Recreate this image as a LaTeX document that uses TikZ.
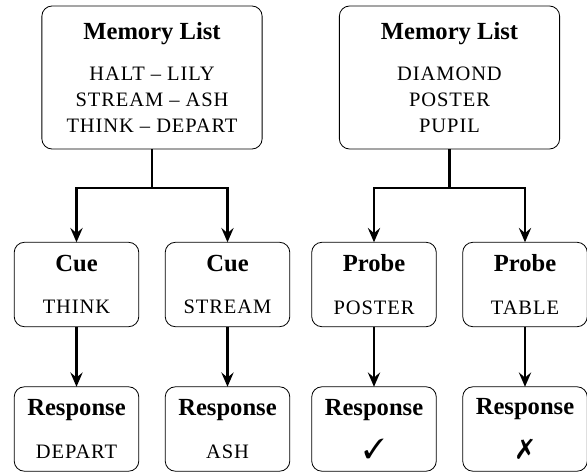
\documentclass[tikz,border=0pt]{standalone}
\usepackage{fontspec}
\setmainfont{Liberation Serif}
\newfontfamily\wordfont[LetterSpace=4.5]{Liberation Serif}
\usepackage{pifont}
\usepackage{tikz}
\usetikzlibrary{arrows.meta}

\tikzset{
    box/.style={draw, rounded corners=5pt, align=center, inner sep=2pt, outer sep=0pt,
        font=\wordfont\fontsize{10}{12.7}\selectfont},
    listbox/.style={box, minimum width=107.5pt, minimum height=69.8pt},
    smallbox/.style={box, minimum width=60.8pt, minimum height=41.2pt},
    flow/.style={-{Stealth[length=7pt,width=6pt,inset=2.5pt]}, line width=1pt},
}
\newcommand{\boxtitle}[1]{{\normalfont\fontsize{12}{12.7}\selectfont\bfseries #1}}
\newcommand{\verdict}[1]{{\fontsize{13.5}{12.7}\selectfont\ding{#1}}}

\begin{document}
\begin{tikzpicture}[x=0.488pt, y=0.488pt]
    \useasboundingbox (0,0) rectangle (587,472);
    % memory lists
    \node[listbox] (memA) at (152,394.5) {\boxtitle{Memory List}\\[7.2pt] HALT \textendash{} LILY\\ STREAM \textendash{} ASH\\ THINK \textendash{} DEPART};
    \node[listbox] (memB) at (449.5,394.5) {\boxtitle{Memory List}\\[7.2pt] DIAMOND\\ POSTER\\ PUPIL};
    % cues and probes
    \node[smallbox] (cueA) at (76.5,187.5) {\boxtitle{Cue}\\[8pt] THINK};
    \node[smallbox] (cueB) at (227.5,187.5) {\boxtitle{Cue}\\[8pt] STREAM};
    \node[smallbox] (probeA) at (374,187.5) {\boxtitle{Probe}\\[8pt] POSTER};
    \node[smallbox] (probeB) at (525,187.5) {\boxtitle{Probe}\\[8pt] TABLE};
    % responses
    \node[smallbox] (respA) at (76.5,43) {\boxtitle{Response}\\[8pt] DEPART};
    \node[smallbox] (respB) at (227.5,43) {\boxtitle{Response}\\[8pt] ASH};
    \node[smallbox] (respC) at (374,43) {\boxtitle{Response}\\[8pt] \verdict{51}};
    \node[smallbox] (respD) at (525,43) {\boxtitle{Response}\\[8pt] \verdict{55}};
    % connectors
    \coordinate (forkA) at (152,284);
    \coordinate (forkB) at (449.5,284);
    \draw[line width=1pt] (memA.south) -- (forkA);
    \draw[flow] (forkA) -| (cueA.north);
    \draw[flow] (forkA) -| (cueB.north);
    \draw[line width=1pt] (memB.south) -- (forkB);
    \draw[flow] (forkB) -| (probeA.north);
    \draw[flow] (forkB) -| (probeB.north);
    \draw[flow] (cueA.south) -- (respA.north);
    \draw[flow] (cueB.south) -- (respB.north);
    \draw[flow] (probeA.south) -- (respC.north);
    \draw[flow] (probeB.south) -- (respD.north);
\end{tikzpicture}
\end{document}
